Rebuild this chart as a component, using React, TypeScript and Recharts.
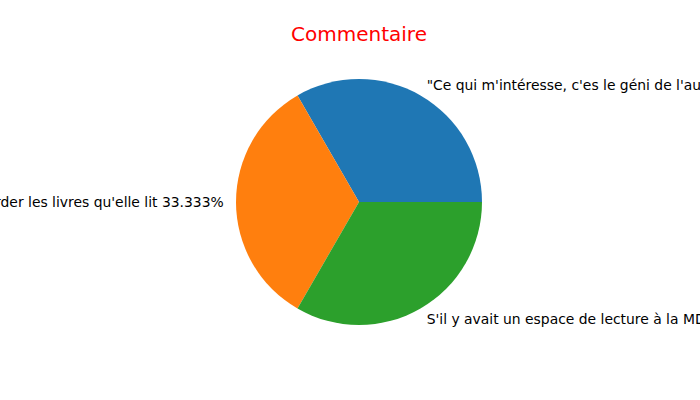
import React from "react";
import { PieChart, Pie, Cell } from "recharts";

const titleText = "Commentaire";
const categories = [
  "\"Ce qui m'intéresse, c'es le géni de l'auteur\"",
  "Je veux pouvoir regarder les livres qu'elle lit",
  "S'il y avait un espace de lecture à la MDJ, je viendrais",
];
const values = [1, 1, 1];
const colors = ["#1f77b4", "#ff7f0e", "#2ca02c"];

const data = categories.map((name, i) => ({ name, value: values[i] }));

const RAD = Math.PI / 180;

const renderLabel = (props: any) => {
  const { cx, cy, midAngle, outerRadius, percent, name } = props;
  const r = outerRadius * 1.1;
  const x = cx + r * Math.cos(-midAngle * RAD);
  const y = cy + r * Math.sin(-midAngle * RAD);
  const anchor = x > cx + 0.0001 ? "start" : "end";
  return (
    <text
      x={x}
      y={y}
      textAnchor={anchor}
      dominantBaseline="central"
      fill="#000"
      fontSize={13.9}
      fontFamily="DejaVu Sans"
    >
      {`${name} ${(percent * 100).toFixed(3)}%`}
    </text>
  );
};

export default function App() {
  return (
    <div style={{ position: "fixed", left: 0, top: 0, width: 700, height: 400, background: "#fff" }}>
      <div
        style={{
          position: "absolute",
          left: 0,
          width: 718,
          top: 22,
          textAlign: "center",
          color: "red",
          fontFamily: "DejaVu Sans",
          fontSize: 20,
          lineHeight: "24px",
        }}
      >
        {titleText}
      </div>
      <PieChart width={700} height={400} margin={{ top: 0, right: 0, bottom: 0, left: 0 }}>
        <Pie
          data={data}
          dataKey="value"
          nameKey="name"
          cx={359}
          cy={202}
          outerRadius={123}
          startAngle={0}
          endAngle={360}
          stroke="none"
          label={renderLabel}
          labelLine={false}
          isAnimationActive={false}
        >
          {data.map((d, i) => (
            <Cell key={d.name} fill={colors[i]} />
          ))}
        </Pie>
      </PieChart>
    </div>
  );
}
